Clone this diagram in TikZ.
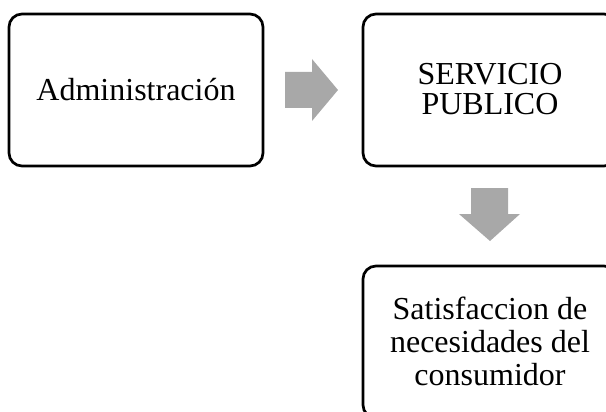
\documentclass[tikz,border=0pt]{standalone}
\usepackage{fontspec}
\setmainfont{Liberation Serif}
\definecolor{arrowgray}{RGB}{168,168,168}
\begin{document}
\begin{tikzpicture}[x=1pt,y=-1pt,
  box/.style={draw=black,line width=2.7pt,rounded corners=13pt,fill=white},
  boxtext/.style={align=center,font=\fontsize{32}{33}\selectfont},
  blockarrow/.style={fill=arrowgray,draw=none}]
\useasboundingbox (0,0) rectangle (606,412);
\clip (0,0) rectangle (606,412);
% boxes
\draw[box] (9,14) rectangle (263,166);
\draw[box] (363,14) rectangle (617,166);
\draw[box] (363,266) rectangle (617,418);
\node[boxtext] (adm) at (136,90) {Administración};
\node[boxtext,font=\fontsize{32}{30}\selectfont] (serv) at (490,89) {SERVICIO\\PUBLICO};
\node[boxtext] (sat) at (490,341) {Satisfaccion de\\necesidades del\\consumidor};
% block arrows
\fill[blockarrow] (285,72) -- (312,72) -- (312,59) -- (338,90) -- (312,121)
  -- (312,108) -- (285,108) -- cycle;
\fill[blockarrow] (471,188) -- (508,188) -- (508,214) -- (520,214) -- (490,241)
  -- (459,214) -- (471,214) -- cycle;
\end{tikzpicture}
\end{document}
